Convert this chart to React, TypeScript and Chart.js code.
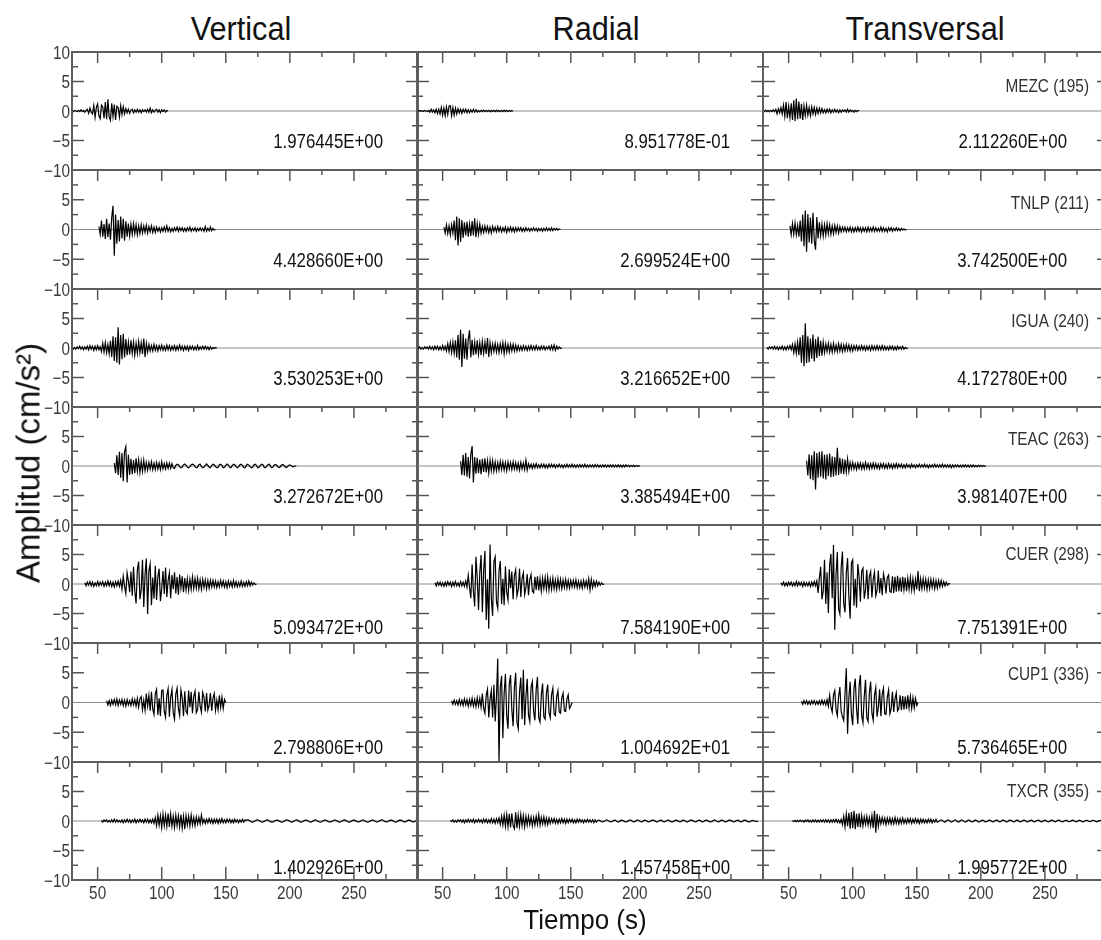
import React, { useEffect, useRef } from "react";
import { Chart, registerables } from "chart.js";

Chart.register(...registerables);

const FONT = '"Liberation Sans", Arial, Helvetica, sans-serif';

// ---- labels and axes ----
const COMPONENTS = ["Vertical", "Radial", "Transversal"];
const STATIONS = ["MEZC (195)", "TNLP (211)", "IGUA (240)", "TEAC (263)", "CUER (298)", "CUP1 (336)", "TXCR (355)"];
const TIME_MIN = 30;
const TIME_MAX = 300;
const SAMPLE_STEP = 1; // seconds between samples
const X_MAJOR = [50, 100, 150, 200, 250];
const X_MINOR = [75, 125, 175, 225, 275];
const Y_LABELS = [10, 5, 0, -5, -10];
const Y_MAJOR = [5, -5];
const Y_MINOR = [7.5, 2.5, -2.5, -7.5];
const AMP_MIN = -10;
const AMP_MAX = 10;

// ---- start time (s) of each record ----
const START_V = [30, 51, 30, 63, 40, 57, 53];
const START_R = [30, 51, 30, 64, 44, 57, 56];
const START_T = [30, 51, 33, 64, 44, 60, 53];

// ---- accelerograms (cm/s^2), one sample per second ----
const V_MEZC = [
  0.1, -0.1, 0.1, 0, -0.1, 0.1, -0.1, 0.2, -0.1, 0.1, -0.2, 0.1,
  0.3, -0.4, 0.5, -0.2, -0.5,
  0.9, -1.1, 0.6, 1.2, -0.8, -1.3, 1.0, 0.7, -1.2,
  1.5, -1.4, 1.976445, -1.0, -1.6, 1.3, -0.9,
  1.1, -1.5, 0.8, 0.6, -1.0, 0.9, -0.6, 0.7, -0.5,
  0.4, -0.3, 0.3, -0.4, 0.2, 0.3, -0.3, 0.2, -0.2, 0.3, -0.2, 0.2, -0.3, 0.2, -0.1, 0.2, -0.2, 0.3, -0.2, 0.5, -0.3,
  0.2, -0.2, 0.1, 0.3, -0.2, 0.2, -0.3, 0.2, -0.1, 0.2, -0.2, 0.1, 0,
];
const R_MEZC = [
  0.05, -0.05, 0.1, -0.05, 0.05, -0.1, 0.1, 0, -0.1, 0.1,
  -0.2, 0.3, -0.2, 0.2, -0.3, 0.3, -0.4, 0.3,
  -0.5, 0.6, -0.7, 0.5, -0.8, 0.7, -0.6, 0.8, 0.8951778, -0.8, 0.6, -0.7, 0.5, -0.5,
  0.4, -0.3, 0.3, -0.4, 0.3, -0.2, 0.3, -0.3, 0.2, -0.3, 0.2, -0.2, 0.3, -0.2, 0.2, -0.2,
  0.1, -0.15, 0.1, -0.1, 0.15, -0.1, 0.1, -0.1, 0.1, -0.15, 0.1, -0.1, 0.1, -0.1, 0.15, -0.1, 0.1, -0.1, 0.1, -0.1,
  0.15, -0.1, 0.1, -0.1, 0.1, -0.05, 0.05, 0,
];
const T_MEZC = [
  0.1, -0.1, 0.15, -0.1, 0.1, -0.15, 0.1, -0.1, 0.2, -0.1,
  0.3, -0.5, 0.4, -0.3, 0.6, -0.5,
  1.0, -0.9, 1.5, -1.2, 0.8, -1.1, 1.3,
  -1.5, 1.8, -1.7, 2.11226, -1.4, 1.6, -1.3, 1.2, -1.5,
  0.9, -0.8, 1.0, -0.7, 0.6, -0.8, 0.7, -0.5, 0.6, -0.6, 0.5, -0.4, 0.5,
  -0.3, 0.4, -0.3, 0.2, -0.3, 0.3, -0.2, 0.3, -0.3, 0.2, -0.2, 0.3, -0.2, 0.2, -0.3, 0.2, -0.2, 0.2, -0.1, 0.2,
  -0.2, 0.3, -0.2, 0.2, -0.1, 0.1, -0.2, 0.1, -0.1, 0.1, 0,
];

const V_TNLP = [
  0.5, -0.8, 1.5, -1.2, 0.9, -1.6, 1.8, -1.3, 1.0, -1.7, 2.0,
  4.0, -4.42866,
  2.5, -2.4, 1.6, -2.0, 2.2, -1.5, 1.8, -1.9, 1.4, -1.2,
  1.0, -1.1, 0.9, -0.8, 1.0, -0.7, 0.8, -0.9, 0.6, -0.7, 0.8, -0.6, 0.6, -0.5, 0.7, -0.6, 0.5, -0.4, 0.6, -0.5, 0.4, -0.5,
  0.4, -0.3, 0.3, -0.4, 0.3, -0.3, 0.4, -0.3, 0.6, -0.3, 0.3, -0.4, 0.2, -0.3, 0.3, -0.2, 0.4, -0.3, 0.3, -0.2,
  0.3, -0.3, 0.2, -0.3, 0.3, -0.2, 0.4, -0.3, 0.2, -0.2, 0.3, -0.3, 0.2, -0.2, 0.3, -0.2, 0.2, -0.3, 0.5, -0.3,
  0.2, -0.2, 0.4, -0.2, 0.2, -0.1, 0,
];
const R_TNLP = [
  0.4, -0.6, 0.8, -0.7, 0.6, -0.9, 0.8, -0.6,
  1.5, -1.8, 2.2, -2.699524, 1.9, -2.1, 1.6,
  -1.4, 1.2, -1.0, 1.3, -1.2, 0.9, -1.1, 1.4, -1.0, 1.9, -1.3, 1.0, -0.8, 0.9,
  -0.6, 0.5, -0.5, 0.6, -0.4, 0.5, -0.5, 0.4, -0.6, 0.5, -0.3, 0.4, -0.4, 0.5, -0.3, 0.4, -0.4, 0.3, -0.3, 0.4,
  -0.5, 0.3, -0.3, 0.4, -0.3, 0.3, -0.4, 0.3, -0.3,
  0.3, -0.2, 0.3, -0.3, 0.2, -0.3, 0.3, -0.2, 0.2, -0.3, 0.2, -0.2, 0.3, -0.2, 0.2, -0.3, 0.2, -0.2, 0.2, -0.3,
  0.2, -0.2, 0.3, -0.2, 0.2, -0.2, 0.3, -0.2, 0.2, -0.1, 0.2, -0.1, 0.1, 0,
];
const T_TNLP = [
  0.6, -0.9, 1.0, -0.8, 1.1, -0.9, 0.7, -1.2, 1.5,
  -2.0, 2.5, -2.8, 3.2, -3.7425, 2.6, -2.2, 2.0, -2.4, 2.8, -1.8, -3.4, 2.1, -1.5,
  1.2, -1.0, 0.9, -1.1, 0.8, -0.9, 1.0, -0.7, 0.8, -0.8, 0.6, -0.7, 0.7, -0.5, 0.6, -0.6, 0.5,
  -0.4, 0.4, -0.3, 0.4, -0.4, 0.3, -0.3, 0.4, -0.4, 0.3, -0.4, 0.3, -0.3, 0.4, -0.3, 0.3, -0.4, 0.3, -0.3, 0.3,
  -0.4, 0.4, -0.3, 0.3, -0.3, 0.4, -0.3, 0.3, -0.3, 0.2, -0.3, 0.4, -0.3, 0.3, -0.3, 0.2, -0.4, 0.3, -0.2, 0.3,
  -0.3, 0.2, -0.2, 0.3, -0.2, 0.2, -0.2, 0.2, -0.1, 0.1, -0.1, 0,
];

const V_IGUA = [
  0.2, -0.2, 0.1, -0.2, 0.2, -0.1, 0.3, -0.2, 0.2, -0.3, 0.2, -0.2, 0.3, -0.3, 0.4, -0.2, 0.3, -0.4, 0.3, -0.3, 0.4, -0.3, 0.2,
  -0.6, 0.8, -0.7, 0.9, -0.8, 0.6, -1.0, 1.2,
  -1.5, 2.0, -2.2, 1.8, -2.5, 3.530253, -2.8, 2.2, -1.9, 2.4, -1.6, 1.5,
  -1.2, 1.0, -1.1, 1.3, -0.9, 1.0, -1.2, 0.8, -0.9, 1.1, -0.8, 0.9, -1.0, 1.6, -1.5, 0.8, -0.7, 0.6,
  -0.5, 0.4, -0.5, 0.6, -0.4, 0.4, -0.5, 0.4, -0.3, 0.5, -0.4, 0.3, -0.4, 0.5, -0.3, 0.4, -0.4, 0.3, -0.3, 0.4,
  -0.4, 0.3, -0.3, 0.5, -0.3, 0.3, -0.4, 0.3, -0.3, 0.3, -0.4, 0.3, -0.2, 0.3, -0.3, 0.2, -0.3, 0.4, -0.3, 0.2,
  -0.2, 0.3, -0.2, 0.3, -0.2, 0.2, -0.3, 0.2, -0.2, 0.1, -0.1, 0.1, 0,
];
const R_IGUA = [
  0.2, -0.1, 0.2, -0.2, 0.1, -0.2, 0.2, -0.1, 0.2, -0.2, 0.3, -0.2, 0.2, -0.3, 0.3, -0.2, 0.3, -0.3, 0.2, -0.3, 0.4, -0.3, 0.3,
  -0.5, 0.7, -0.6, 0.9, -0.8, 1.0, -0.9, 1.3,
  -1.6, 2.2, -2.0, 3.1, -3.216652, 2.4, -1.8, 1.6, -2.0, 1.5, 3.0, -1.6, 1.4, -1.2,
  1.0, -1.1, 1.3, -1.0, 0.9, -1.2, 1.1, -0.9, 1.0, -1.0, 1.7, -1.5, 0.9,
  -0.8, 0.7, -0.6, 0.8, -0.7, 0.6, -0.8, 0.7, -0.6, 0.9, -1.0, 0.8, -0.7, 0.6, -0.7, 0.6, -0.5, 0.6, -0.5, 0.5, -0.5,
  0.4, -0.4, 0.3, -0.4, 0.4, -0.3, 0.3, -0.4, 0.3, -0.3, 0.4, -0.3, 0.3, -0.3, 0.4, -0.3, 0.2, -0.3, 0.3, -0.2,
  0.3, -0.3, 0.2, -0.2, 0.3, -0.3, 0.4, -0.3, 0.5, -0.4, 0.3, -0.2, 0.2, -0.1, 0,
];
const T_IGUA = [
  0.1, -0.2, 0.2, -0.1, 0.2, -0.2, 0.3, -0.2, 0.2, -0.3, 0.2, -0.2, 0.3, -0.3, 0.2, -0.3, 0.3, -0.2, 0.4, -0.3,
  0.6, -0.8, 0.7, -0.9, 1.0, -1.2,
  1.8, -2.5, 2.2, -3.1, 4.17278, -2.6, 2.0, -2.4,
  1.6, -1.8, 2.3, -2.3, 1.5, -1.7, 1.9, -1.4, 1.2, -1.3, 1.0,
  -0.8, 0.7, -0.6, 0.8, -0.7, 0.6, -0.7, 0.8, -0.6, 0.5, -0.6, 0.7, -0.5, 0.6, -0.6, 0.5, -0.5, 0.6, -0.4, 0.5,
  -0.5, 0.4, -0.5,
  0.4, -0.3, 0.4, -0.4, 0.3, -0.3, 0.4, -0.3, 0.3, -0.4, 0.3, -0.3, 0.3, -0.4, 0.4, -0.3, 0.3, -0.3, 0.4, -0.3,
  0.3, -0.3, 0.4, -0.3, 0.3, -0.3, 0.2, -0.3, 0.3, -0.2, 0.3, -0.3, 0.2, -0.3, 0.3, -0.2, 0.2, -0.2, 0.3, -0.2,
  0.1, -0.1, 0,
];

const V_TEAC = [
  0.5, -1.2, 1.8, -1.5, 2.4, -2.0, 2.2,
  -2.6, 2.5, 3.272672, -2.8, 1.9,
  -1.5, 1.2, -1.4, 1.0, -1.2, 1.3, -0.9, 1.0, -1.1, 0.8, -0.9, 1.0, -0.8,
  0.6, -0.7, 0.6, -0.5, 0.7, -0.6, 0.5, -0.6, 0.6, -0.5, 0.5, -0.6, 0.7, -0.5, 0.4, -0.5, 0.5, -0.4, 0.5, -0.4, 0.4,
  -0.3, -0.4, 0.1, 0.3, 0.2, -0.1, -0.3, -0.2, 0.2, 0.35, 0.1, -0.2, -0.35, -0.1, 0.2, 0.3, 0.2, -0.1, -0.3, -0.2,
  0.25, 0.3, -0.1, -0.3, -0.2, 0.1, 0.35, 0.1, -0.2, -0.3, 0.05, 0.3, 0.2, -0.1, -0.3, -0.2, 0.2, 0.3, 0.1, -0.3,
  -0.2, 0.1, 0.35, 0.2, -0.2, -0.3, 0.05, 0.3, 0.2, -0.1, -0.3, -0.15, 0.2, 0.3, 0.1, -0.25, -0.3, 0.1, 0.3, 0.15,
  -0.1, -0.3, -0.2, 0.2, 0.3, 0.05, -0.3, -0.2, 0.1, 0.3, 0.2, -0.2, -0.3, 0, 0.25, 0.3, -0.1, -0.3, -0.15, 0.2,
  0.25, 0.1, -0.2, -0.25, 0, 0.25, 0.2, -0.1, -0.25, -0.15, 0.1, 0.2, 0.1, -0.1, -0.1, 0, 0,
];
const R_TEAC = [
  0.8, -1.5, 1.9, -1.6, 2.2, -1.8, 1.5, -2.1, 2.0,
  3.385494, -2.8,
  1.5, -1.3, 1.4, -1.2, 1.1, -1.4, 1.2, -1.0, 1.3, -1.1, 0.9, -1.2, 1.0, -0.8, 0.9, -0.9,
  0.7, -0.8, 0.6, -0.7, 0.8, -0.6, 0.7, -0.7, 0.6, -0.8, 0.7, -0.5, 0.6, -0.6, 0.7, -0.5, 0.6, -0.6, 0.5, -0.7,
  0.6, -0.5, 0.5, -0.6, 1.0, -0.7,
  0.4, -0.3, 0.3, -0.4, 0.3, -0.3, 0.4, -0.3, 0.2, -0.3, 0.3, -0.2, 0.3, -0.3, 0.2, -0.3, 0.3, -0.2, 0.3, -0.2,
  0.25, -0.3, 0.2, -0.2, 0.3, -0.2, 0.2, -0.3, 0.2, -0.2, 0.3, -0.2, 0.2, -0.2, 0.3, -0.2, 0.2, -0.25, 0.2, -0.2,
  0.25, -0.2, 0.2, -0.2, 0.3, -0.2, 0.15, -0.2, 0.2, -0.15, 0.2, -0.2, 0.25, -0.15, 0.2, -0.2, 0.15, -0.2, 0.2, -0.15,
  0.2, -0.2, 0.15, -0.15, 0.2, -0.15, 0.2, -0.2, 0.15, -0.15, 0.2, -0.15, 0.15, -0.2, 0.15, -0.15, 0.2, -0.1, 0.15, -0.15,
  0.1, -0.1, 0.15, -0.1, 0.1, -0.05, 0.05, 0,
];
const T_TEAC = [
  0.9, -1.6, 2.0, -2.2, 1.8, -2.4, 2.5,
  -3.981407,
  2.2, -2.0, 2.4, -1.8, 2.5, -2.1, 1.9, -2.3, 2.0, -1.7, 2.1, -1.9, 1.6, -1.8, 1.5, -1.6,
  3.1, -1.5, 1.4, -1.3, 1.2, -1.4, 1.1, -1.0, 1.2, -0.9,
  0.6, -0.5, 0.6, -0.5, 0.4, -0.6, 0.5, -0.4, 0.5, -0.5, 0.4, -0.5, 0.6, -0.4, 0.4, -0.5, 0.4, -0.4, 0.5, -0.4,
  0.4, -0.4, 0.3, -0.5, 0.4, -0.3, 0.4, -0.4, 0.3, -0.4, 0.4, -0.3, 0.3, -0.4, 0.3, -0.3, 0.4,
  -0.3, 0.3, -0.2, 0.3, -0.3, 0.2, -0.3, 0.3, -0.2, 0.2, -0.3, 0.3, -0.2, 0.2, -0.3, 0.2, -0.2, 0.3, -0.2, 0.2,
  -0.2, 0.3, -0.2, 0.2, -0.3, 0.2, -0.2, 0.2, -0.2, 0.3, -0.2, 0.2, -0.2, 0.2, -0.2, 0.3, -0.2, 0.2, -0.2, 0.2,
  -0.2, 0.2, -0.3, 0.2, -0.2, 0.2, -0.15, 0.2, -0.2, 0.15, -0.2, 0.2, -0.15, 0.2, -0.15, 0.15, -0.2, 0.15, -0.15, 0.2,
  -0.15, 0.1, -0.15, 0.15, -0.1, 0.1, -0.1, 0.1, -0.05, 0,
];

const V_CUER = [
  0.2, -0.3, 0.3, -0.2, 0.4, -0.3, 0.3, -0.4, 0.2, -0.3, 0.4, -0.3, 0.3, -0.2, 0.4, -0.4, 0.3, -0.3, 0.5, -0.3,
  0.4, -0.4, 0.3, -0.5, 0.4, -0.3, 0.5, -0.4, 0.6,
  -0.9, 1.3, -0.4, -1.6, 1.9, 0.5, -1.4, 2.1, -2.0,
  2.9, -1.2, -3.3, 2.4, 3.8, -2.6, -1.0, 4.1, -3.9, 1.6, 4.3, -5.093472, 2.2, 3.4, -3.6, 1.1, -2.5, 3.1,
  -2.7, 1.2, 2.6, -2.9, -0.8, 2.2, -1.7, 2.8, -2.2, 0.6, 1.9, -2.4, 1.5, -0.9, 2.0, -1.6, 1.2, -1.8, 1.6, -0.7,
  1.3, -1.4, 1.0,
  -1.0, 0.9, -1.1, 0.8, -0.9, 1.2, -0.8, 0.9, -0.7, 1.0, -0.8, 0.7, -0.9, 0.8, -0.6, 0.7, -0.8, 0.6, -0.7, 0.6,
  -0.5,
  0.6, -0.5, 0.5, -0.6, 0.4, -0.5, 0.6, -0.4, 0.5, -0.5, 0.4, -0.6, 0.5, -0.4, 0.4, -0.5, 0.6, -0.4, 0.4, -0.5,
  0.3, -0.4, 0.5, -0.4, 0.3, -0.4, 0.4, -0.3, 0.5, -0.3, 0.3, -0.2, 0.2, -0.1, 0,
];
const R_CUER = [
  0.2, -0.3, 0.3, -0.2, 0.3, -0.3, 0.2, -0.4, 0.3, -0.3, 0.4, -0.2, 0.3, -0.4, 0.3, -0.3, 0.4, -0.3, 0.2, -0.4,
  0.4, -0.3, 0.3, -0.4, 0.5, -0.5,
  1.5, -0.6, -2.4, 3.3, -1.2, -3.8, 4.6, 1.0, -4.4, 2.0, 4.9, -4.8, 2.2,
  5.6, -6.1, 0.8, -7.58419, 6.7, -2.5, -5.4, 3.8,
  4.6, -3.0, -4.1, 2.2, 3.9, -3.4, 0.9, -3.6,
  3.0, -1.4, -2.7, 2.5, -0.7, 2.1, -2.6, 1.4, 2.4, -2.0, -0.9, 2.6, -2.2, 1.0, 1.9, -1.8, -0.6, 1.7, -1.9, 0.8,
  1.6, -1.2, -1.5,
  1.2, -1.0, 1.3, -1.1, 0.9, -1.2, 1.0, -0.8, 1.1, -0.9, 1.2, -1.0, 0.8, -0.9, 1.0, -0.8, 0.7, -0.9, 0.9, -0.7,
  0.8, -0.8, 0.7, -0.6, 0.8, -0.7, 0.6, -0.7, 0.6,
  -0.5, 0.6, -0.5, 0.7, -0.6, 0.5, -0.6, 0.5, -0.7, 0.6, -0.5, 0.5, -0.6, 0.9, -1.0, 0.8, -0.6, 0.5, -0.4, 0.5,
  -0.3, 0.3, -0.2, 0.2, -0.1, 0,
];
const T_CUER = [
  0.2, -0.2, 0.3, -0.3, 0.2, -0.3, 0.3, -0.2, 0.3, -0.3, 0.2, -0.3, 0.4, -0.3, 0.3, -0.2, 0.3, -0.4, 0.3, -0.3,
  0.2, -0.3, 0.3, -0.4, 0.3, -0.3, 0.4, -0.3, 0.5,
  -1.5, 1.0, 2.9, -2.6, -1.2, 4.1, -3.4, 2.0, -4.9, 3.2,
  5.1, -2.4, 6.6, -7.751391, 1.6, 5.4, -4.2, -5.1,
  2.8, 5.5, -3.3, -4.8, 1.9, 4.4, -2.1, -5.9, 3.6, 4.1, -3.7, 0.9, -4.0, 3.4, 1.2,
  -3.0, 2.2, 2.7, -2.5, -1.0, 2.4, -2.6, 1.3, 2.1, -2.3, 0.8, 2.0, -2.0, -1.1, 2.3, -1.5, 1.0, -1.9, 1.7, 0.6,
  -1.6, 1.1, 1.5, -1.3,
  -1.4, 1.3, -1.5, 1.2, -1.3, 1.4, -1.2, 1.1, -1.3, 1.2, -1.0, 1.1, -1.2, 1.0, -0.9, 1.1, -1.0, 0.9, -1.1, 0.8,
  -0.9, 2.2, -1.2,
  0.9, -0.8, 0.9, -0.7, 0.8, -0.9, 0.7, -0.8, 0.8, -0.6, 0.7, -0.8, 0.6, -0.7, 0.6, -0.5, 0.6, -0.4, 0.4, -0.3,
  0.3, -0.2, 0.1, 0,
];

const V_CUP1 = [
  0.3, -0.4, 0.3, -0.5, 0.4, -0.3, 0.5, -0.4, 0.6, -0.5, 0.4, -0.3, 0.5, -0.5, 0.4, -0.6, 0.5, -0.4, 0.3, -0.5,
  0.6, -0.4, 0.5, -0.6, 0.7,
  -0.8, 0.6, 1.0, -1.2, 0.4, -1.3, 1.5, -0.6, 1.2, -1.4,
  1.8, -1.1, -2.0, 1.5, 2.2, -2.1, 0.7, -2.3, 2.0, 2.1, -1.5, -2.5, 1.2, 2.3, -2.4, 0.9, 2.2, -1.8, -2.798806, 1.4,
  2.4, -1.0, -2.2, 2.1, 0.8, -2.3, 1.9,
  -1.5, -1.9, 2.0, -0.8, 1.8, -1.8, 1.0, 1.9, -1.7, -1.2, 1.8, -0.6, -1.6, 1.7, 0.9, -1.5, 1.6, -1.3, -0.5, 1.6,
  -1.4, 0.7, 1.5, -1.3, 0.4, -1.2, 1.2, -0.8, 0.9, -1.0, 0.5, 0,
];
const R_CUP1 = [
  0.3, -0.3, 0.4, -0.3, 0.3, -0.4, 0.5, -0.4, 0.4, -0.5, 0.6, -0.4, 0.5, -0.6, 0.5, -0.5, 0.7, -0.6, 0.5, -0.7,
  0.8, -0.6, 0.7, -0.8,
  1.5, -1.0, -1.8, 1.2, 2.2, -2.5, 0.6, 2.0, -2.5, 3.0, -3.2,
  1.0, 7.4, -10.04692, 2.6, 4.5, -6.0,
  1.5, 4.8, -2.2, -4.4, 3.1, 4.6, -1.2, -4.0, 2.5, 5.0, -3.3, -4.4, 1.8, 4.2, -2.8, 5.5, -3.8, 1.0, 4.0,
  -2.1, -3.2, 2.6, 3.5, -1.5, -3.0, 2.2, 4.3, -2.6, -3.3, 1.2, 3.2, -2.4, -2.8, 1.6, 3.0, -1.7, -2.6,
  1.3, 2.4, -1.9, -2.2, 1.0, 2.0, -1.6, -1.8, 0.8, 1.6, -1.4, -1.5, 0.6, 1.3, -1.0, -0.6, 0,
];
const T_CUP1 = [
  0.2, -0.3, 0.3, -0.2, 0.3, -0.3, 0.2, -0.3, 0.3, -0.2, 0.3, -0.3, 0.2, -0.3, 0.3, -0.3, 0.4, -0.3, 0.3, -0.4,
  0.5, -0.6,
  1.2, -0.7, -1.6, 1.3, 2.0, -1.2, -2.2, 1.0, 2.6, -1.5, -2.4, -3.0,
  1.5, 5.736465, -5.25, 0.8,
  3.5, -2.0, -3.8, 2.4, 4.0, -1.1, -3.6, 2.8, 4.6, -2.2, -3.4, 1.0, 3.8, -2.6, -3.2, 1.6, 3.5, -1.8, -3.0,
  1.2, 2.5, -2.4, -0.8, 2.2, -2.3, 1.4, 2.4, -1.9, -2.0, 0.9, 2.1, -1.9, -1.1, 1.8, -1.6, 0.6, 1.6, -1.4, -1.0,
  1.2, -1.3, 1.1, -1.2, 1.0, -1.1, 1.2, -0.9, 1.0, -1.0, 0.8, -0.9, 0.7, -0.5, 0,
];

const V_TXCR = [
  0.1, -0.2, 0.2, -0.1, 0.2, -0.2, 0.1, -0.2, 0.2, -0.2, 0.3, -0.2, 0.2, -0.2, 0.1, -0.2, 0.2, -0.3, 0.2, -0.2,
  0.3, -0.2, 0.2, -0.3, 0.2, -0.2, 0.3, -0.3, 0.2, -0.2, 0.3, -0.2, 0.2, -0.3, 0.3, -0.2, 0.3, -0.3, 0.2, -0.3,
  0.3, -0.4,
  0.6, -0.8, 1.0, -0.7, 0.9, -1.1, 1.2, -0.8, 1.0, -0.9, 1.3, -1.0, 1.2, -0.9, 0.8, -1.1, 1.0, -0.8, 0.9, -1.0,
  1.1, -1.2, 0.8, -1.402926, 0.9, -0.7, 0.8, -0.9, 1.0, -0.7, 0.6, -0.8, 0.7, -0.5, 0.6, -0.5, 1.0,
  -0.4, 0.3, -0.4, 0.3, -0.3, 0.4, -0.3, 0.3, -0.4, 0.3, -0.3, 0.3, -0.4, 0.3, -0.3, 0.4, -0.3, 0.2, -0.3, 0.3,
  -0.2, 0.3, -0.3, 0.2, -0.3, 0.3, -0.2, 0.2, -0.3, 0.2, -0.2, 0.3, -0.2, 0.2,
  0.1, 0.2, 0.15, 0, -0.15, -0.2, -0.1, 0.05, 0.15, 0.2, 0.1, -0.05, -0.2, -0.15, -0.05, 0.1,
  0.2, 0.15, 0, -0.1, -0.2, -0.15, 0, 0.1, 0.15, 0.1, -0.05, -0.15, -0.2, -0.1, 0.05, 0.15,
  0.2, 0.1, -0.05, -0.2, -0.15, -0.05, 0.1, 0.2, 0.15, 0, -0.15, -0.2, -0.1, 0.05, 0.15, 0.15,
  0.05, -0.1, -0.2, -0.15, 0, 0.1, 0.2, 0.1, -0.05, -0.15, -0.2, -0.1, 0.05, 0.15, 0.15, 0.05,
  -0.1, -0.15, -0.15, -0.05, 0.1, 0.2, 0.1, 0, -0.15, -0.2, -0.1, 0.05, 0.15, 0.2, 0.05, -0.1,
  -0.2, -0.15, 0, 0.1, 0.15, 0.1, -0.05, -0.15, -0.15, -0.05, 0.1, 0.2, 0.1, -0.05, -0.15, -0.2,
  -0.1, 0.05, 0.15, 0.15, 0.05, -0.1, -0.2, -0.1, 0.05, 0.15, 0.2, 0.1, -0.05, -0.15, -0.15, 0,
  0.1, 0.15, 0.1, -0.05, -0.15, -0.2, -0.05, 0.1, 0.15, 0.1, 0, -0.15, -0.15, -0.05, 0.1,
  0.15, 0.1, -0.05, -0.15, -0.15, 0, 0.1, 0.15,
];
const R_TXCR = [
  0.1, -0.1, 0.2, -0.2, 0.1, -0.2, 0.2, -0.1, 0.2, -0.2, 0.2, -0.3, 0.2, -0.2, 0.3, -0.2, 0.2, -0.2, 0.3, -0.3,
  0.2, -0.2, 0.3, -0.2, 0.2, -0.3, 0.3, -0.2, 0.3, -0.3, 0.2, -0.3, 0.4, -0.3, 0.3, -0.4, 0.4, -0.3, 0.5,
  -0.6, 0.8, -0.7, 1.0, -0.9, 1.1, -1.0, 1.2, -1.1, 1.3, -0.8, -1.35, 1.457458, -1.2, 1.0, -0.9, 1.1, -0.8, 0.9, -1.0,
  0.8, -0.7,
  0.8, -0.6, 0.7, -0.8, 0.6, -0.7, 0.8, -0.6, 1.1, -0.7, 0.6, -0.5, 0.7, -0.6, 0.5, -0.6, 0.5, -0.4,
  0.4, -0.3, 0.4, -0.4, 0.3, -0.4, 0.3, -0.3, 0.4, -0.3, 0.3, -0.4, 0.3, -0.3, 0.3, -0.2, 0.3, -0.3, 0.2, -0.3,
  0.3, -0.2, 0.3, -0.2, 0.2, -0.3, 0.2, -0.2, 0.3, -0.2, 0.2, -0.2, 0.2, -0.3, 0.2, -0.2,
  0.1, 0.15, 0.05, -0.1, -0.15, -0.05, 0.1, 0.2, 0.1, -0.05, -0.15, -0.1, 0.05, 0.15, 0.1, -0.1, -0.2, -0.05,
  0.1, 0.15, 0.05, -0.1, -0.15, -0.1, 0.05, 0.15, 0.15, -0.05, -0.15, -0.1, 0.05, 0.2, 0.1, -0.05, -0.15, -0.1,
  0.1, 0.15, 0.05, -0.1, -0.15, -0.05, 0.1, 0.15, 0.1, -0.05, -0.2, -0.1, 0.05, 0.15, 0.1, -0.1, -0.15, -0.05,
  0.1, 0.2, 0.05, -0.1, -0.15, -0.1, 0.05, 0.15, 0.1, -0.05, -0.15, -0.1, 0.1, 0.15, 0.05, -0.1, -0.2, -0.05,
  0.1, 0.15, 0.1, -0.05, -0.15, -0.1, 0.05, 0.15, 0.1, -0.1, -0.15, -0.05, 0.1, 0.15, 0.05, -0.1, -0.15, -0.1,
  0.05, 0.2, 0.1, -0.05, -0.15, -0.1, 0.1, 0.15, 0.05, -0.1, -0.15, -0.05, 0.1, 0.15, 0.1, -0.05, -0.15, -0.1,
  0.05, 0.15, 0.1, -0.1, -0.15, -0.05, 0.1, 0.15, 0.05, -0.1, -0.15, -0.1, 0.05, 0.1, 0.05, -0.05, -0.1, 0,
];
const T_TXCR = [
  0.1, -0.1, 0.1, -0.15, 0.1, -0.1, 0.15, -0.1, 0.1, -0.2, 0.15, -0.1, 0.2, -0.15, 0.1, -0.2, 0.2, -0.15, 0.2, -0.2,
  0.15, -0.2, 0.2, -0.15, 0.2, -0.2, 0.25, -0.2, 0.2, -0.25, 0.2, -0.2, 0.25, -0.2, 0.3, -0.25, 0.2, -0.3, 0.3,
  -0.6, 0.8, -1.0, 1.2, -0.9, 1.4, -1.3, 1.5, -1.2, 1.75, -1.4, 1.2, -1.0, 1.3, -1.1, 0.9, -0.8,
  0.7, -0.6, 0.8, -0.7, 0.6, -0.8, 0.9, -1.2, 1.75, -1.995772, 1.2, -0.9,
  0.6, -0.5, 0.6, -0.4, 0.5, -0.6, 0.5, -0.4, 0.5, -0.5, 0.4, -0.5, 0.6, -0.4, 0.4, -0.5, 0.4, -0.4, 0.5, -0.4,
  0.3, -0.4, 0.4, -0.3, 0.4, -0.4, 0.3, -0.3, 0.4, -0.3, 0.3, -0.4, 0.3, -0.3, 0.3, -0.3, 0.2, -0.3, 0.3, -0.2,
  0.3, -0.3, 0.2, -0.2, 0.3,
  -0.2, -0.1, 0.1, 0.2, 0.1, -0.1, -0.2, 0, 0.15, 0.15, -0.05, -0.2, -0.1, 0.1, 0.2, 0.05, -0.15, -0.15, 0.05, 0.2,
  0.1, -0.1, -0.2, -0.05, 0.15, 0.15, -0.05, -0.15, -0.1, 0.1, 0.15, 0.05, -0.15, -0.15, 0, 0.15, 0.1, -0.1, -0.15, -0.05,
  0.1, 0.15, 0, -0.15, -0.1, 0.05, 0.15, 0.1, -0.1, -0.15, 0, 0.15, 0.1, -0.05, -0.15, -0.1, 0.1, 0.15, 0.05, -0.1,
  -0.15, 0, 0.15, 0.1, -0.1, -0.15, -0.05, 0.1, 0.15, 0, -0.15, -0.1, 0.05, 0.15, 0.1, -0.1, -0.15, 0, 0.1, 0.15,
  0, -0.15, -0.1, 0.05, 0.15, 0.05, -0.1, -0.15, 0, 0.15, 0.1, -0.05, -0.15, -0.05, 0.1, 0.15, 0, -0.1, -0.15, 0,
  0.1, 0.1, -0.05, -0.15, -0.05, 0.1, 0.15, 0, -0.1, -0.1, 0.05, 0.15, 0.05, -0.1, -0.15, 0, 0.1, 0.1, -0.05, -0.1,
  -0.05, 0.1, 0.1, 0, -0.1, -0.1, 0.05, 0.1, 0.05, -0.1, -0.1, 0, 0.1, 0.05, 0,
];

const VERTICAL = [V_MEZC, V_TNLP, V_IGUA, V_TEAC, V_CUER, V_CUP1, V_TXCR];
const RADIAL = [R_MEZC, R_TNLP, R_IGUA, R_TEAC, R_CUER, R_CUP1, R_TXCR];
const TRANSVERSAL = [T_MEZC, T_TNLP, T_IGUA, T_TEAC, T_CUER, T_CUP1, T_TXCR];
const RECORDS = [VERTICAL, RADIAL, TRANSVERSAL];
const STARTS = [START_V, START_R, START_T];

// ---- page layout (px) ----
const PAGE_W = 1101;
const PAGE_H = 940;
const COL_LEFT = [72, 417, 763];
const COL_WIDTH = 346;
const ROW_EDGES = [52, 170, 289, 407, 525, 643, 762, 880];
const PAD = { left: 44, right: 16, top: 14, bottom: 30 };
const PEAK_RIGHT = [311, 313, 304];
const PEAK_LEVEL = [-5, -5, -5, -5, -7.3, -7.4, -7.8];
const STATION_RIGHT = 326;
const STATION_LEVEL = [4.4, 4.6, 4.7, 4.7, 5.2, 4.9, 5.2];
const TITLE_X = [241, 596, 925];

function sci(v: number): string {
  const [m, e] = v.toExponential(6).split("e");
  const n = parseInt(e, 10);
  return `${m}E${n < 0 ? "-" : "+"}${String(Math.abs(n)).padStart(2, "0")}`;
}

function tickText(v: number): string {
  return v < 0 ? `\u2212${Math.abs(v)}` : String(v);
}

// condensed text: regular face squeezed horizontally
function narrowText(
  ctx: CanvasRenderingContext2D,
  s: string,
  x: number,
  y: number,
  size: number,
  squeeze: number,
  align: CanvasTextAlign,
  color: string
) {
  ctx.save();
  ctx.font = `${size}px ${FONT}`;
  ctx.fillStyle = color;
  ctx.textAlign = align;
  ctx.textBaseline = "alphabetic";
  ctx.translate(x, y);
  ctx.scale(squeeze, 1);
  ctx.fillText(s, 0, 0);
  ctx.restore();
}

function panelDecor(row: number, col: number, peak: number) {
  return {
    id: "panelDecor",
    afterDraw(chart: any) {
      const { ctx, chartArea: a } = chart;
      const xs = chart.scales.x;
      const ys = chart.scales.y;
      const lastRow = row === STATIONS.length - 1;
      ctx.save();
      const seg = (x1: number, y1: number, x2: number, y2: number) => {
        ctx.beginPath();
        ctx.moveTo(x1, y1);
        ctx.lineTo(x2, y2);
        ctx.stroke();
      };
      // inward ticks
      ctx.strokeStyle = "#555";
      ctx.lineWidth = 1.5;
      for (const v of Y_MAJOR) {
        const p = ys.getPixelForValue(v);
        seg(a.left, p, a.left + 12, p);
        seg(a.right, p, a.right - 12, p);
      }
      for (const v of Y_MINOR) {
        const p = ys.getPixelForValue(v);
        seg(a.left, p, a.left + 6, p);
        seg(a.right, p, a.right - 6, p);
      }
      for (const v of X_MAJOR) {
        const p = xs.getPixelForValue(v);
        seg(p, a.top, p, a.top + 11);
        if (lastRow) seg(p, a.bottom, p, a.bottom - 13);
      }
      for (const v of X_MINOR) {
        const p = xs.getPixelForValue(v);
        seg(p, a.top, p, a.top + 5);
        if (lastRow) seg(p, a.bottom, p, a.bottom - 6);
      }
      // frame
      ctx.strokeStyle = "#5e5e5e";
      ctx.lineWidth = 2;
      ctx.strokeRect(a.left, a.top, a.right - a.left, a.bottom - a.top);
      ctx.restore();

      // amplitude tick labels (first column)
      if (col === 0) {
        for (const v of Y_LABELS) {
          if (v === AMP_MAX && row > 0) continue;
          narrowText(ctx, tickText(v), a.left - 2, ys.getPixelForValue(v) + 6.5, 18, 0.85, "right", "#3a3a3a");
        }
      }
      // time tick labels (bottom row)
      if (lastRow) {
        for (const v of X_MAJOR) {
          narrowText(ctx, String(v), xs.getPixelForValue(v), a.bottom + 18.5, 18, 0.85, "center", "#3a3a3a");
        }
      }
      // station name (last column)
      if (col === 2) {
        narrowText(
          ctx,
          STATIONS[row],
          a.left + STATION_RIGHT,
          ys.getPixelForValue(STATION_LEVEL[row]) + 6.8,
          18.5,
          0.83,
          "right",
          "#333"
        );
      }
      // peak amplitude
      narrowText(
        ctx,
        sci(peak),
        a.left + PEAK_RIGHT[col],
        ys.getPixelForValue(PEAK_LEVEL[row]) + 7.4,
        20.5,
        0.82,
        "right",
        "#111"
      );
    },
  };
}

function Panel({ row, col }: { row: number; col: number }) {
  const ref = useRef<HTMLCanvasElement>(null);
  const h = ROW_EDGES[row + 1] - ROW_EDGES[row];
  const cw = COL_WIDTH + PAD.left + PAD.right;
  const ch = h + PAD.top + PAD.bottom;

  useEffect(() => {
    const samples = RECORDS[col][row];
    const t0 = STARTS[col][row];
    const points = samples.map((v, i) => ({ x: t0 + i * SAMPLE_STEP, y: v }));
    const peak = samples.reduce((m, v) => (Math.abs(v) > m ? Math.abs(v) : m), 0);
    const chart = new Chart(ref.current as HTMLCanvasElement, {
      type: "line",
      data: {
        datasets: [
          { data: points, borderColor: "#000", borderWidth: 1.2, pointRadius: 0, tension: 0, fill: false },
          {
            data: [
              { x: TIME_MIN, y: 0 },
              { x: TIME_MAX, y: 0 },
            ],
            borderColor: "#8c8c8c",
            borderWidth: 1.2,
            pointRadius: 0,
            fill: false,
          },
        ],
      },
      options: {
        responsive: false,
        maintainAspectRatio: false,
        animation: false,
        events: [],
        devicePixelRatio: 1,
        layout: { padding: { left: PAD.left, right: PAD.right, top: PAD.top, bottom: PAD.bottom } },
        scales: {
          x: { type: "linear", min: TIME_MIN, max: TIME_MAX, display: false },
          y: { type: "linear", min: AMP_MIN, max: AMP_MAX, display: false },
        },
        plugins: { legend: { display: false }, tooltip: { enabled: false }, title: { display: false } },
      },
      plugins: [panelDecor(row, col, peak)],
    } as any);
    return () => chart.destroy();
  }, [row, col]);

  return (
    <canvas
      ref={ref}
      width={cw}
      height={ch}
      style={{
        position: "absolute",
        left: COL_LEFT[col] - PAD.left,
        top: ROW_EDGES[row] - PAD.top,
        width: cw,
        height: ch,
      }}
    />
  );
}

export default function App() {
  const panels: React.ReactNode[] = [];
  for (let r = 0; r < STATIONS.length; r++) {
    for (let c = 0; c < COMPONENTS.length; c++) panels.push(<Panel key={`${r}-${c}`} row={r} col={c} />);
  }
  const text: React.CSSProperties = {
    position: "absolute",
    fontFamily: FONT,
    lineHeight: 1,
    whiteSpace: "nowrap",
    color: "#111",
  };
  return (
    <div
      style={{
        position: "fixed",
        left: 0,
        top: 0,
        width: PAGE_W,
        height: PAGE_H,
        overflow: "hidden",
        background: "#fff",
      }}
    >
      {COMPONENTS.map((name, i) => (
        <div
          key={name}
          style={{ ...text, left: TITLE_X[i], top: 12, fontSize: 33, transform: "translateX(-50%) scaleX(0.93)" }}
        >
          {name}
        </div>
      ))}
      {panels}
      <div style={{ ...text, left: 585, top: 906, fontSize: 28, transform: "translateX(-50%) scaleX(0.93)" }}>
        Tiempo (s)
      </div>
      <div
        style={{
          ...text,
          left: 28,
          top: 463,
          fontSize: 33,
          transform: "translate(-50%, -50%) rotate(-90deg)",
        }}
      >
        Amplitud (cm/s²)
      </div>
    </div>
  );
}
